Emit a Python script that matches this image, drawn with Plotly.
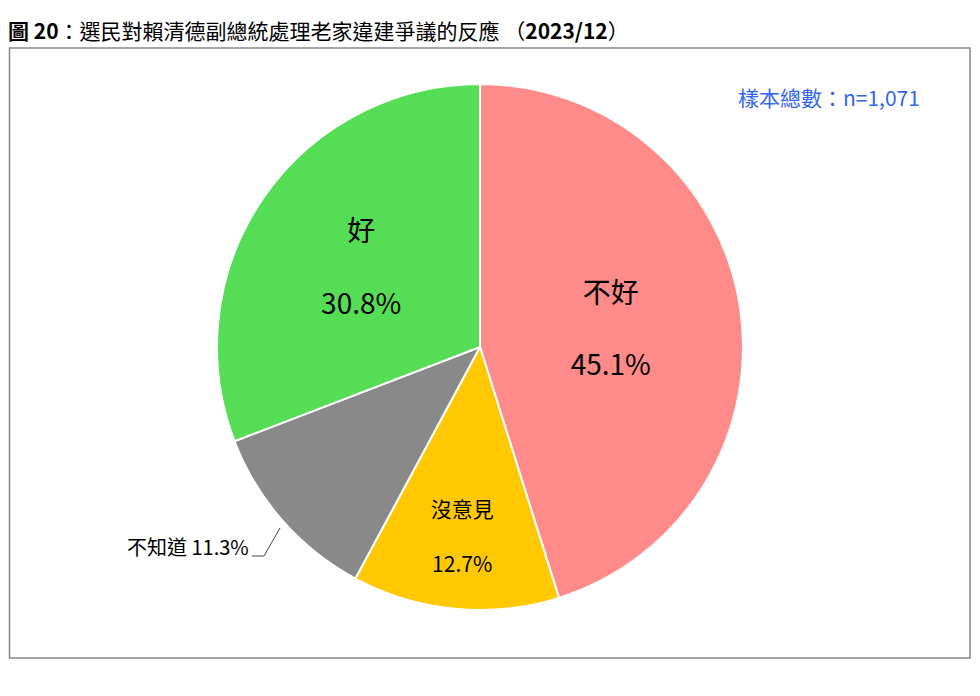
import plotly.graph_objects as go

labels = ["不好", "沒意見", "不知道", "好"]
values = [45.1, 12.7, 11.3, 30.8]
colors = ["#FF8A8A", "#FFC800", "#898989", "#55DD55"]
texts = ["不好<br><br>45.1%", "沒意見<br><br>12.7%", "", "好<br><br>30.8%"]
sizes = [28, 21, 21, 28]

W, H = 980, 696
OFF = 8
cx, cy, r = 480 - OFF, 347 - OFF, 263
F = "Noto Sans CJK TC"

fig = go.Figure(go.Pie(
    labels=labels, values=values, text=texts, textinfo="text",
    sort=False, direction="clockwise", rotation=0,
    marker=dict(colors=colors, line=dict(color="white", width=2)),
    textposition="inside", insidetextorientation="horizontal",
    textfont=dict(size=sizes, color="black", family=F),
    domain=dict(x=[(cx - r) / W, (cx + r) / W], y=[1 - (cy + r) / H, 1 - (cy - r) / H]),
    showlegend=False, hoverinfo="label+percent",
))

def px(x): return (x - OFF) / W
def py(y): return 1 - (y - OFF) / H

fig.update_layout(
    width=W, height=H, margin=dict(l=0, r=0, t=0, b=0),
    paper_bgcolor="white", plot_bgcolor="white",
    shapes=[
        dict(type="rect", xref="paper", yref="paper", x0=1.5 / W, x1=px(970), y0=py(48), y1=py(658),
             line=dict(color="#888888", width=1.5), layer="above"),
        dict(type="path", xref="paper", yref="paper",
             path=f"M {px(252)},{py(556)} L {px(264)},{py(556)} L {px(280)},{py(528)}",
             line=dict(color="#444444", width=1)),
    ],
    annotations=[
        dict(text="<b>圖 20</b>：選民對賴清德副總統處理老家違建爭議的反應 （<b>2023/12</b>）",
             x=px(6), y=py(30), xref="paper", yref="paper", xanchor="left", yanchor="middle",
             showarrow=False, font=dict(size=21, family=F, color="black")),
        dict(text="樣本總數：n=1,071", x=px(922), y=py(97), xref="paper", yref="paper",
             xanchor="right", yanchor="middle", showarrow=False,
             font=dict(size=21, family=F, color="#3366EE")),
        dict(text="不知道 11.3%", x=px(251), y=py(546), xref="paper", yref="paper",
             xanchor="right", yanchor="middle", showarrow=False,
             font=dict(size=20, family=F, color="black")),
    ],
)
fig.write_html("out.html")
